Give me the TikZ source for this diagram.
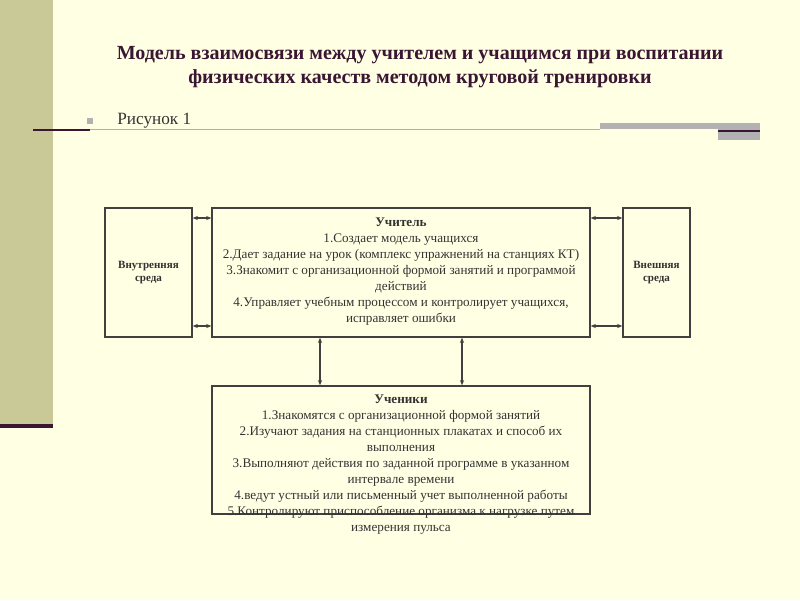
\documentclass[tikz,border=0pt]{standalone}
\usepackage{fontspec}
\setmainfont{Liberation Serif}
\usetikzlibrary{arrows.meta}
\definecolor{bgyellow}{RGB}{255,255,228}
\definecolor{olive}{RGB}{201,201,152}
\definecolor{plum}{RGB}{58,22,50}
\definecolor{barg}{RGB}{178,178,178}
\definecolor{framec}{RGB}{64,64,64}
\tikzset{
  box/.style={draw=framec,line width=0.8pt,inner sep=0pt,text=black!80},
  txt/.style={align=center,font=\fontsize{7.5}{9.1}\selectfont,text=black!80,inner sep=0pt},
  envtxt/.style={align=center,font=\bfseries\fontsize{6.3}{7.4}\selectfont},
  link/.style={draw=framec,line width=0.6pt,{Stealth[length=3pt,width=2.4pt]}-{Stealth[length=3pt,width=2.4pt]}}
}
\begin{document}
\begin{tikzpicture}[x=0.02cm,y=-0.02cm]
  % slide background
  \fill[bgyellow] (0,0) rectangle (800,600);
  \fill[olive] (0,0) rectangle (53,424);
  \fill[plum] (0,424) rectangle (53,428);
  \draw[plum,line width=1.2pt] (33,130) -- (90,130);
  \draw[olive!70!gray,line width=0.4pt] (90,129.5) -- (600,129.5);
  \fill[barg] (600,123) rectangle (760,129);
  \fill[barg] (718,129) rectangle (760,140);
  \draw[plum,line width=1.2pt] (718,131) -- (760,131);
  \fill[barg] (87,118) rectangle (93,124);

  \node[font=\bfseries\fontsize{11.4}{13.6}\selectfont,text=plum,align=center] (title) at (420,67)
    {Модель взаимосвязи между учителем и учащимся при воспитании\\физических качеств методом круговой тренировки};
  \node[anchor=west,inner sep=0pt,font=\fontsize{9.8}{12}\selectfont,text=black!80] (fig) at (117,121) {Рисунок 1};

  % boxes
  \node[box,minimum width=1.74cm,minimum height=2.58cm,envtxt] (inenv) at (148.5,272.5) {Внутренняя\\среда};
  \node[box,minimum width=7.56cm,minimum height=2.58cm] (teacher) at (401,272.5) {};
  \node[box,minimum width=1.34cm,minimum height=2.58cm,envtxt] (outenv) at (656.5,272.5) {Внешняя\\среда};
  \node[box,minimum width=7.56cm,minimum height=2.56cm] (pupils) at (401,450) {};

  \node[txt,anchor=north] (teachertxt) at ([yshift=-0.2cm]teacher.north)
    {\textbf{Учитель}\\1.Создает модель учащихся\\2.Дает задание на урок (комплекс упражнений на станциях КТ)\\
     3.Знакомит с организационной формой занятий и программой\\действий\\
     4.Управляет учебным процессом и контролирует учащихся,\\исправляет ошибки};
  \node[txt,anchor=north] (pupilstxt) at ([yshift=-0.18cm]pupils.north)
    {\textbf{Ученики}\\1.Знакомятся с организационной формой занятий\\
     2.Изучают задания на станционных плакатах и способ их\\выполнения\\
     3.Выполняют действия по заданной программе в указанном\\интервале времени\\
     4.ведут устный или письменный учет выполненной работы\\
     5.Контролируют приспособление организма к нагрузке путем\\измерения пульса};

  % links
  \draw[link] (inenv.east |- 0,218) -- (teacher.west |- 0,218);
  \draw[link] (inenv.east |- 0,326) -- (teacher.west |- 0,326);
  \draw[link] (teacher.east |- 0,218) -- (outenv.west |- 0,218);
  \draw[link] (teacher.east |- 0,326) -- (outenv.west |- 0,326);
  \draw[link] (teacher.south -| 320,0) -- (pupils.north -| 320,0);
  \draw[link] (teacher.south -| 462,0) -- (pupils.north -| 462,0);
\end{tikzpicture}
\end{document}
